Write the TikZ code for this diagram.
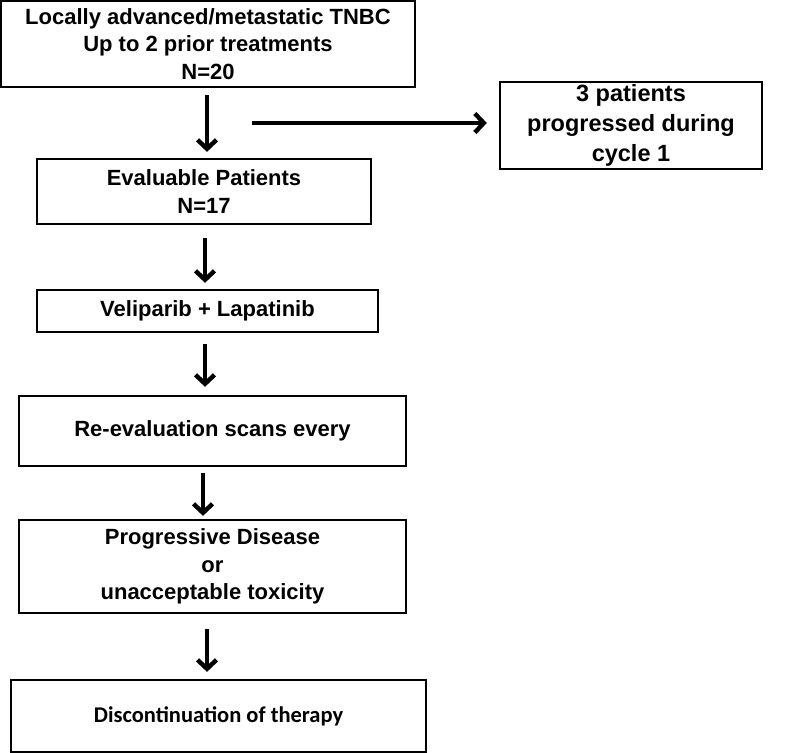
\documentclass[tikz,border=0pt]{standalone}
\usepackage{fontspec}
\setmainfont{Liberation Sans}
\newfontfamily\calibrifont{Carlito}
\usetikzlibrary{arrows.meta}

\begin{document}
\begin{tikzpicture}[x=1pt,y=1pt,
        box/.style={draw=black,line width=2.3pt,align=center,inner sep=0pt,
            font=\fontsize{22}{27.5}\selectfont\bfseries},
        flow/.style={line width=3.4pt,-{Straight Barb[length=9pt,width=19pt,line width=4.4pt]}}]
    \useasboundingbox (0,0) rectangle (788,-753);

    % Boxes
    \node[box,minimum width=414pt,minimum height=86pt] (start) at (208,-44)
        {Locally advanced/metastatic TNBC\\Up to 2 prior treatments\\N=20};
    \node[box,minimum width=334pt,minimum height=65pt] (eval) at (204,-191.5)
        {Evaluable Patients\\N=17};
    \node[box,minimum width=262pt,minimum height=87pt,
        font=\fontsize{23.5}{30}\selectfont\bfseries] (prog) at (631,-125.5)
        {3 patients\\progressed during\\cycle 1};
    \node[box,minimum width=341pt,minimum height=42pt] (drugs) at (207.5,-311)
        {Veliparib + Lapatinib};
    \node[box,minimum width=387pt,minimum height=70pt] (scans) at (212.5,-431)
        {Re-evaluation scans every};
    \node[box,minimum width=387pt,minimum height=93pt] (pd) at (212.5,-566.5)
        {Progressive Disease\\or\\unacceptable toxicity};
    \node[box,minimum width=415pt,minimum height=72pt,
        font=\fontsize{22.5}{27}\selectfont\calibrifont\bfseries] (stop) at (218.5,-716)
        {Discontinuation of therapy};

    % Arrows
    \coordinate (branch) at (252,-123);
    \draw[flow,shorten <=7pt,shorten >=6pt] ([xshift=-1pt]start.south) -- ([xshift=-1pt]start.south |- eval.north);
    \draw[flow,shorten >=12pt] (branch) -- (branch -| prog.west);
    \draw[flow,shorten <=13pt,shorten >=6pt] ([xshift=1pt]eval.south) -- ([xshift=1pt]eval.south |- drugs.north);
    \draw[flow,shorten <=11pt,shorten >=8pt] ([xshift=-2.5pt]drugs.south) -- ([xshift=-2.5pt]drugs.south |- scans.north);
    \draw[flow,shorten <=6pt,shorten >=3pt] ([xshift=-9.5pt]scans.south) -- ([xshift=-9.5pt]scans.south |- pd.north);
    \draw[flow,shorten <=15pt,shorten >=7pt] ([xshift=-5.5pt]pd.south) -- ([xshift=-5.5pt]pd.south |- stop.north);
\end{tikzpicture}
\end{document}
